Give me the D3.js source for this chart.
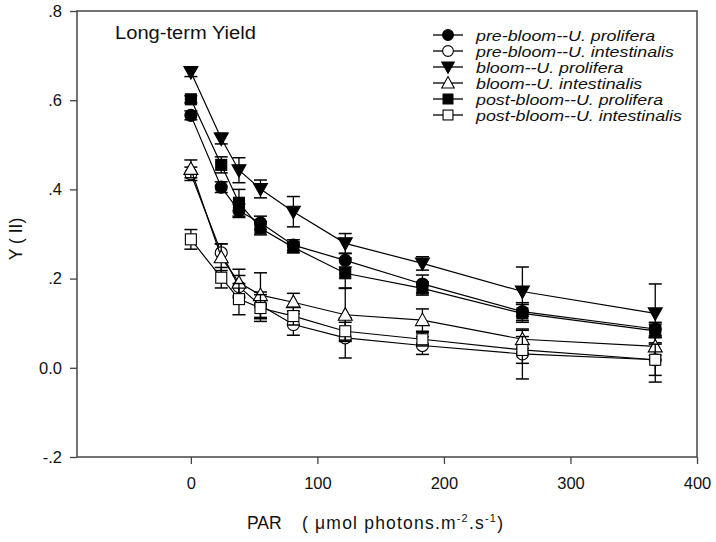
<!DOCTYPE html>
<html>
<head>
<meta charset="utf-8">
<script src="https://cdn.jsdelivr.net/npm/d3@7"></script>
<style>
  html, body { margin: 0; padding: 0; background: #fff; }
  svg { display: block; font-family: "Liberation Sans", Arial, sans-serif; }
  text { white-space: pre; }
</style>
</head>
<body>
<svg id="chart" width="716" height="542"></svg>
<script>
// ---- data ----
const par = [0, 24, 38, 55, 81, 122, 183, 262, 367];

const preProlifera      = [0.566, 0.405, 0.352, 0.325, 0.275, 0.241, 0.188, 0.126, 0.087];
const preProliferaErr   = [0.010, 0.012, 0.015, 0.015, 0.012, 0.015, 0.020, 0.020, 0.015];
const preIntestinalis    = [0.435, 0.258, 0.182, 0.140, 0.097, 0.067, 0.050, 0.031, 0.018];
const preIntestinalisErr = [0.015, 0.020, 0.025, 0.030, 0.024, 0.045, 0.020, 0.056, 0.050];
const bloomProlifera      = [0.663, 0.514, 0.443, 0.401, 0.350, 0.279, 0.234, 0.171, 0.122];
const bloomProliferaErr   = [0.010, 0.012, 0.028, 0.020, 0.034, 0.022, 0.015, 0.055, 0.066];
const bloomIntestinalis    = [0.446, 0.248, 0.191, 0.163, 0.147, 0.119, 0.107, 0.064, 0.048];
const bloomIntestinalisErr = [0.020, 0.030, 0.030, 0.050, 0.020, 0.060, 0.025, 0.020, 0.020];
const postProlifera      = [0.602, 0.455, 0.370, 0.313, 0.270, 0.212, 0.178, 0.122, 0.083];
const postProliferaErr   = [0.008, 0.018, 0.030, 0.015, 0.012, 0.034, 0.015, 0.020, 0.015];
const postIntestinalis    = [0.288, 0.202, 0.154, 0.134, 0.116, 0.082, 0.064, 0.040, 0.018];
const postIntestinalisErr = [0.022, 0.023, 0.035, 0.030, 0.020, 0.020, 0.015, 0.030, 0.035];

const seriesNames = [
  "pre-bloom--U. prolifera",
  "pre-bloom--U. intestinalis",
  "bloom--U. prolifera",
  "bloom--U. intestinalis",
  "post-bloom--U. prolifera",
  "post-bloom--U. intestinalis"
];
const xTicks = [0, 100, 200, 300, 400];
const yTicks = [-0.2, 0.0, 0.2, 0.4, 0.6, 0.8];
const yTickLabels = ["-.2", "0.0", ".2", ".4", ".6", ".8"];

// ---- build ----
const series = [
  {name: seriesNames[0], v: preProlifera, e: preProliferaErr, sym: "circle", fill: "#000"},
  {name: seriesNames[1], v: preIntestinalis, e: preIntestinalisErr, sym: "circle", fill: "#fff"},
  {name: seriesNames[2], v: bloomProlifera, e: bloomProliferaErr, sym: "tdown", fill: "#000"},
  {name: seriesNames[3], v: bloomIntestinalis, e: bloomIntestinalisErr, sym: "tup", fill: "#fff"},
  {name: seriesNames[4], v: postProlifera, e: postProliferaErr, sym: "square", fill: "#000"},
  {name: seriesNames[5], v: postIntestinalis, e: postIntestinalisErr, sym: "square", fill: "#fff"}
];

const svg = d3.select("#chart");
const L = 77, R = 697, T = 11, B = 457;
const x = d3.scaleLinear().domain([-90, 400]).range([L, R]);
const y = d3.scaleLinear().domain([-0.2, 0.8]).range([B, T]);

// frame
const axisColor = "#444";
svg.append("rect").attr("x", L).attr("y", T).attr("width", R - L).attr("height", B - T)
  .attr("fill", "none").attr("stroke", axisColor).attr("stroke-width", 1.5);

// axes
const xAxis = svg.append("g").attr("transform", `translate(0,${B})`)
  .call(d3.axisBottom(x).tickValues(xTicks).tickSize(7).tickPadding(13).tickFormat(d3.format("d")));
const yAxis = svg.append("g").attr("transform", `translate(${L},0)`)
  .call(d3.axisLeft(y).tickValues(yTicks).tickSize(7).tickPadding(8).tickFormat((d, i) => yTickLabels[i]));
[xAxis, yAxis].forEach(g => {
  g.select(".domain").remove();
  g.selectAll(".tick line").attr("stroke", axisColor).attr("stroke-width", 1.3);
  g.selectAll(".tick text").attr("fill", "#111").style("font-size", "16.5px")
    .style("font-family", "'Liberation Sans', Arial, sans-serif");
});

// symbols
function drawSymbol(g, sym, cx, cy, fill, scale) {
  const s = scale || 1;
  let el;
  if (sym === "circle") {
    el = g.append("circle").attr("cx", cx).attr("cy", cy).attr("r", 6 * s);
  } else if (sym === "square") {
    const h = 5.5 * s;
    el = g.append("rect").attr("x", cx - h).attr("y", cy - h).attr("width", 2 * h).attr("height", 2 * h);
  } else if (sym === "tdown") {
    const w = 7 * s, h = 5.5 * s;
    el = g.append("path").attr("d", `M${cx - w},${cy - h}L${cx + w},${cy - h}L${cx},${cy + h + 1.5}Z`);
  } else {
    const w = 7 * s, h = 5.5 * s;
    el = g.append("path").attr("d", `M${cx - w},${cy + h}L${cx + w},${cy + h}L${cx},${cy - h - 1.5}Z`);
  }
  el.attr("fill", fill).attr("stroke", "#000").attr("stroke-width", 1.1);
}

const plot = svg.append("g");
const line = d3.line().x(d => x(d[0])).y(d => y(d[1]));
const cap = 6.5;

series.forEach(s => {
  const g = plot.append("g");
  const pts = par.map((p, i) => [p, s.v[i]]);
  g.append("path").attr("d", line(pts)).attr("fill", "none").attr("stroke", "#000").attr("stroke-width", 1.2);
  par.forEach((p, i) => {
    const cx = x(p), y1 = y(s.v[i] + s.e[i]), y2 = y(s.v[i] - s.e[i]);
    g.append("line").attr("x1", cx).attr("x2", cx).attr("y1", y1).attr("y2", y2)
      .attr("stroke", "#000").attr("stroke-width", 1.3);
    [y1, y2].forEach(yy => g.append("line").attr("x1", cx - cap).attr("x2", cx + cap)
      .attr("y1", yy).attr("y2", yy).attr("stroke", "#000").attr("stroke-width", 1.5));
  });
  par.forEach((p, i) => drawSymbol(g, s.sym, x(p), y(s.v[i]), s.fill));
});

// title inside
svg.append("text").attr("transform", "translate(115,39) scale(1.06,1)").text("Long-term Yield")
  .style("font-size", "19px").attr("fill", "#111");

// legend
const leg = svg.append("g");
series.forEach((s, i) => {
  const yy = 35 + i * 16;
  leg.append("line").attr("x1", 433).attr("x2", 463).attr("y1", yy).attr("y2", yy)
    .attr("stroke", "#000").attr("stroke-width", 1.3);
  drawSymbol(leg, s.sym, 448, yy, s.fill, 0.9);
  leg.append("text").attr("transform", `translate(476,${yy + 5.5}) scale(1.15,1)`).text(s.name)
    .style("font-size", "15.5px").style("font-style", "italic").attr("fill", "#111");
});

// axis titles
svg.append("text").attr("transform", "translate(22,239) rotate(-90)")
  .attr("text-anchor", "middle").style("font-size", "17.5px").attr("fill", "#111")
  .text("Y ( II)");

svg.append("text").attr("x", 247).attr("y", 529).style("font-size", "17.5px").attr("fill", "#111").text("PAR");
const xt = svg.append("text").attr("x", 302).attr("y", 529).style("font-size", "17.5px")
  .style("letter-spacing", "1.2px").attr("fill", "#111");
xt.append("tspan").text("( \u03bcmol photons.m");
xt.append("tspan").attr("dy", -7).style("font-size", "11px").text("-2");
xt.append("tspan").attr("dy", 7).text(".s");
xt.append("tspan").attr("dy", -7).style("font-size", "11px").text("-1");
xt.append("tspan").attr("dy", 7).text(")");
</script>
</body>
</html>
